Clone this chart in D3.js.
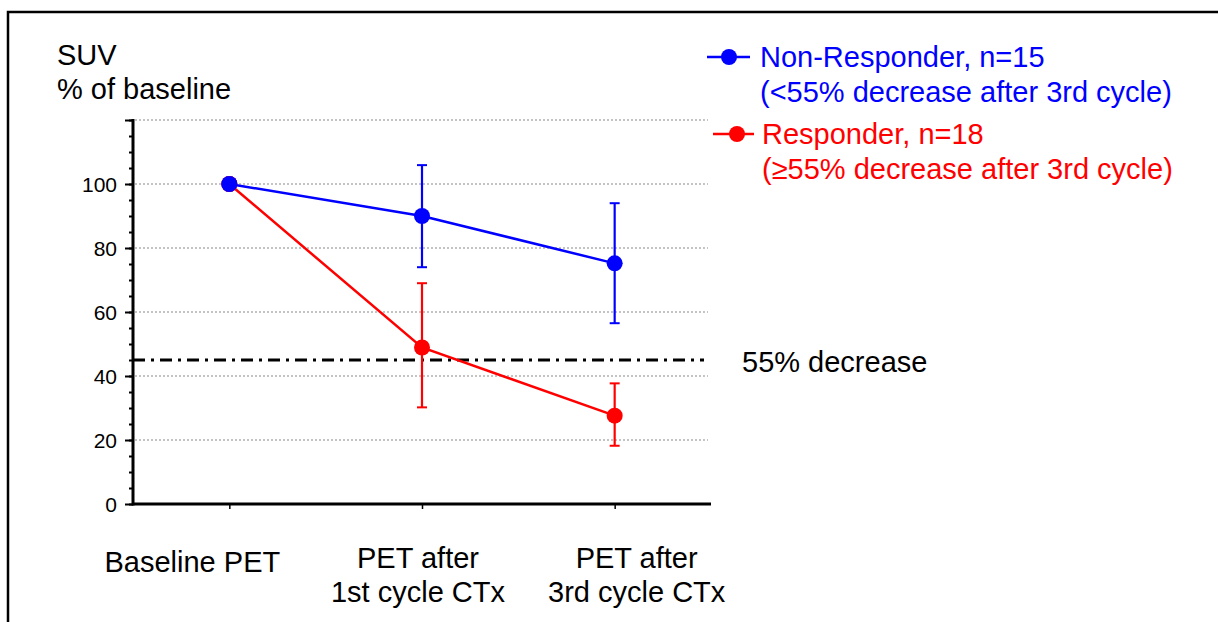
<!DOCTYPE html>
<html>
<head>
<meta charset="utf-8">
<script src="https://cdn.jsdelivr.net/npm/d3@7"></script>
<style>
  body { margin: 0; background: #fff; }
  svg { font-family: "Liberation Sans", Arial, sans-serif; }
</style>
</head>
<body>
<div id="chart"></div>
<script>
// timepoints along the x axis
const timepoints = ["baseline", "cycle1", "cycle3"];
const xLabels = [["Baseline PET"], ["PET after", "1st cycle CTx"], ["PET after", "3rd cycle CTx"]];

// mean SUV (% of baseline) with upper / lower error bar ends
const nonResponderMean = [100, 90, 75.2];
const nonResponderHigh = [100, 105.9, 94];
const nonResponderLow = [100, 74, 56.5];

const responderMean = [100, 48.9, 27.6];
const responderHigh = [100, 69, 37.7];
const responderLow = [100, 30.2, 18.2];

const yTicks = [0, 20, 40, 60, 80, 100];
const gridValues = [20, 40, 60, 80, 100, 120];
const thresholdValue = 45;

const series = [
  { name: "Non-Responder, n=15", note: "(<55% decrease after 3rd cycle)", color: "#0000ff",
    mean: nonResponderMean, high: nonResponderHigh, low: nonResponderLow },
  { name: "Responder, n=18", note: "(\u226555% decrease after 3rd cycle)", color: "#ff0000",
    mean: responderMean, high: responderHigh, low: responderLow }
];

const width = 1218, height = 622;
const plotLeft = 133, plotRight = 711, plotTop = 120, plotBottom = 504;
const bigFont = 29;

const svg = d3.select("#chart").append("svg")
  .attr("width", width)
  .attr("height", height);

// outer frame (only top and left edge are visible)
svg.append("rect")
  .attr("x", 8).attr("y", 12)
  .attr("width", 1300).attr("height", 700)
  .attr("fill", "none")
  .attr("stroke", "#000")
  .attr("stroke-width", 2.5);

const x = d3.scalePoint()
  .domain(timepoints)
  .range([plotLeft, plotRight])
  .padding(0.5);

const y = d3.scaleLinear()
  .domain([0, 120])
  .range([plotBottom, plotTop]);

// dotted grid
svg.append("g")
  .selectAll("line")
  .data(gridValues)
  .join("line")
  .attr("x1", plotLeft + 2).attr("x2", 708)
  .attr("y1", d => y(d)).attr("y2", d => y(d))
  .attr("stroke", "#8a8a8a")
  .attr("stroke-width", 1.2)
  .attr("stroke-dasharray", "2,2");

// y axis with minor ticks every 5
const yAxis = svg.append("g").attr("transform", `translate(${plotLeft},0)`);
yAxis.call(d3.axisLeft(y).tickValues(d3.range(0, 121, 5)).tickSize(4).tickFormat(""))
  .call(g => g.select(".domain").remove())
  .call(g => g.selectAll(".tick line").attr("stroke-width", 2));
yAxis.append("g")
  .call(d3.axisLeft(y).tickValues(d3.range(0, 121, 20)).tickSize(8).tickFormat(""))
  .call(g => g.select(".domain").remove())
  .call(g => g.selectAll(".tick line").attr("stroke-width", 2));
yAxis.append("line")
  .attr("x1", 0).attr("x2", 0)
  .attr("y1", plotTop - 1).attr("y2", plotBottom + 1.5)
  .attr("stroke", "#000").attr("stroke-width", 3);

svg.append("g")
  .selectAll("text")
  .data(yTicks)
  .join("text")
  .attr("x", 117)
  .attr("y", d => y(d))
  .attr("dy", "0.36em")
  .attr("text-anchor", "end")
  .attr("font-size", 21)
  .text(d => d);

// x axis
const xAxis = svg.append("g").attr("transform", `translate(0,${plotBottom})`);
xAxis.call(d3.axisBottom(x).tickSize(5).tickFormat(""))
  .call(g => g.select(".domain").remove())
  .call(g => g.selectAll(".tick line").attr("stroke-width", 1.5));
xAxis.append("line")
  .attr("x1", plotLeft).attr("x2", plotRight)
  .attr("stroke", "#000").attr("stroke-width", 3);

const labelShift = [-37, -4, 22];
const xl = svg.append("g")
  .selectAll("text")
  .data(timepoints)
  .join("text")
  .attr("text-anchor", "middle")
  .attr("font-size", bigFont)
  .attr("transform", (d, i) => `translate(${x(d) + labelShift[i]},${xLabels[i].length === 1 ? 572 : 568})`);
xl.selectAll("tspan")
  .data((d, i) => xLabels[i])
  .join("tspan")
  .attr("x", 0)
  .attr("dy", (d, j) => j === 0 ? 0 : 34)
  .text(d => d);

// axis title
svg.append("text").attr("x", 57).attr("y", 65).attr("font-size", bigFont).text("SUV");
svg.append("text").attr("x", 57).attr("y", 99).attr("font-size", bigFont).text("% of baseline");

// 55% decrease threshold
svg.append("line")
  .attr("x1", plotLeft).attr("x2", 704)
  .attr("y1", y(thresholdValue)).attr("y2", y(thresholdValue))
  .attr("stroke", "#000")
  .attr("stroke-width", 3)
  .attr("stroke-dasharray", "12,6,3,6");
svg.append("text")
  .attr("x", 742).attr("y", 372)
  .attr("font-size", bigFont)
  .text("55% decrease");

// series: lines, error bars, markers
const line = d3.line().x((d, i) => x(timepoints[i])).y(d => y(d));

series.forEach(s => {
  const g = svg.append("g");
  g.append("path")
    .attr("d", line(s.mean))
    .attr("fill", "none")
    .attr("stroke", s.color)
    .attr("stroke-width", 2.5);

  const err = g.selectAll(".err")
    .data(timepoints.map((t, i) => ({ t, hi: s.high[i], lo: s.low[i] })).filter(d => d.hi !== d.lo))
    .join("g");
  err.append("line")
    .attr("x1", d => x(d.t)).attr("x2", d => x(d.t))
    .attr("y1", d => y(d.hi)).attr("y2", d => y(d.lo))
    .attr("stroke", s.color).attr("stroke-width", 2.2);
  ["hi", "lo"].forEach(k => {
    err.append("line")
      .attr("x1", d => x(d.t) - 5).attr("x2", d => x(d.t) + 5)
      .attr("y1", d => y(d[k])).attr("y2", d => y(d[k]))
      .attr("stroke", s.color).attr("stroke-width", 2);
  });

  g.selectAll("circle")
    .data(s.mean)
    .join("circle")
    .attr("cx", (d, i) => x(timepoints[i]))
    .attr("cy", d => y(d))
    .attr("r", 8)
    .attr("fill", s.color);
});

// the baseline point is drawn blue on top
svg.append("circle")
  .attr("cx", x(timepoints[0]))
  .attr("cy", y(nonResponderMean[0]))
  .attr("r", 8)
  .attr("fill", series[0].color);

// legend
const legendPos = [{ lx1: 707, lx2: 750, cx: 729, cy: 57, tx: 760, ty: 67 },
                   { lx1: 713, lx2: 754, cx: 737, cy: 134, tx: 762, ty: 144 }];
series.forEach((s, i) => {
  const p = legendPos[i];
  const g = svg.append("g");
  g.append("line")
    .attr("x1", p.lx1).attr("x2", p.lx2)
    .attr("y1", p.cy).attr("y2", p.cy)
    .attr("stroke", s.color).attr("stroke-width", 2.5);
  g.append("circle")
    .attr("cx", p.cx).attr("cy", p.cy).attr("r", 8)
    .attr("fill", s.color);
  g.append("text")
    .attr("x", p.tx).attr("y", p.ty)
    .attr("font-size", bigFont)
    .attr("fill", s.color)
    .text(s.name);
  g.append("text")
    .attr("x", p.tx).attr("y", p.ty + 35)
    .attr("font-size", bigFont)
    .attr("fill", s.color)
    .text(s.note);
});
</script>
</body>
</html>
